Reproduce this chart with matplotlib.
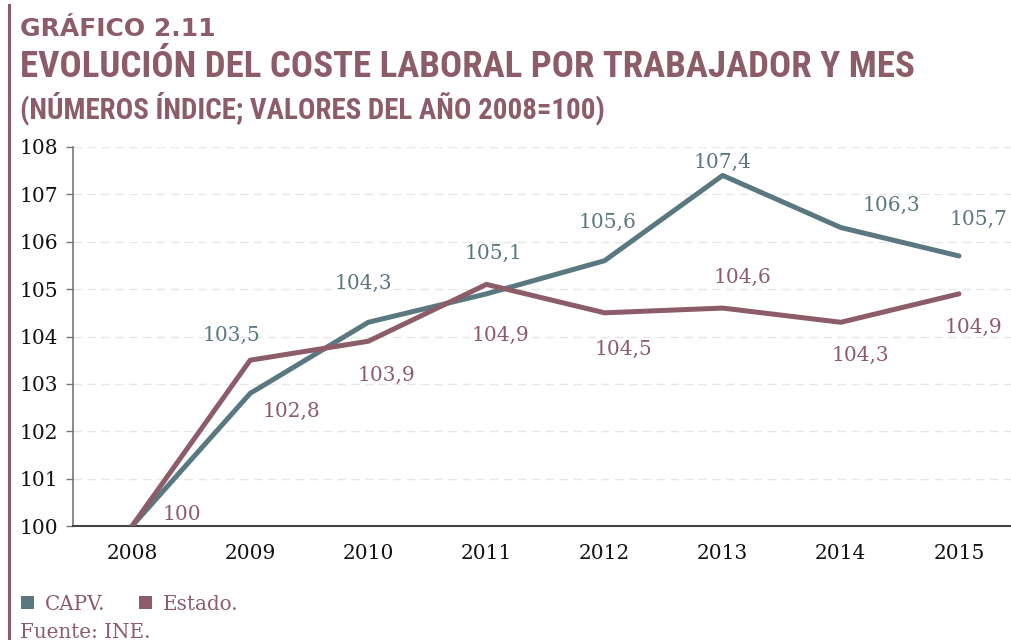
import matplotlib
matplotlib.use("Agg")
import matplotlib.pyplot as plt
from matplotlib import font_manager as fm
from matplotlib.patches import Rectangle
from matplotlib.lines import Line2D

# datos (números índice, 2008=100)
years = ["2008", "2009", "2010", "2011", "2012", "2013", "2014", "2015"]
capv = [100, 102.8, 104.3, 104.9, 105.6, 107.4, 106.3, 105.7]
estado = [100, 103.5, 103.9, 105.1, 104.5, 104.6, 104.3, 104.9]
yticks = [100, 101, 102, 103, 104, 105, 106, 107, 108]

# desplazamiento de las etiquetas (pixeles) respecto al punto
top_off = [None, (-19, 25), (-5, 39), (7, 31), (3, 38), (0, 13), (51, 22), (20, 37)]
bot_off = [(50, 12), (41, -18), (18, -34), (14, -42), (19, -37), (20, 31), (20, -33), (14, -34)]

TEAL = "#5a7880"
PURPLE = "#8d5c69"
W, H = 1011, 640

# buscar una fuente estrecha para el titulo (si existe)
narrow = None
for f in fm.fontManager.ttflist:
    name = f.name.lower()
    if ("narrow" in name or "condensed" in name or "condensed" in str(f.stretch)) \
            and f.style == "normal":
        if narrow is None or (str(f.weight) in ("bold", "700", "800", "900") or
                              (isinstance(f.weight, int) and f.weight >= 700)):
            narrow = f
if narrow is not None:
    title_prop = fm.FontProperties(fname=narrow.fname)
else:
    title_prop = fm.FontProperties(family="DejaVu Sans", weight="bold")

fig = plt.figure(figsize=(W / 100, H / 100), dpi=100)
ax = fig.add_axes([73 / W, (H - 526) / H, (1018 - 73) / W, (526 - 147) / H])

x = list(range(len(years)))
ax.plot(x, capv, color=TEAL, lw=3.6, solid_capstyle="round", zorder=3)
ax.plot(x, estado, color=PURPLE, lw=3.6, solid_capstyle="round", zorder=3)

serif = "DejaVu Serif"
fs = 14.5

def fmt(v):
    return f"{v:g}".replace(".", ",")

for i in x:
    hi, lo = max(capv[i], estado[i]), min(capv[i], estado[i])
    if top_off[i] is not None:
        ax.annotate(fmt(hi), (i, hi), xytext=top_off[i], textcoords="offset pixels",
                    ha="center", va="center", color=TEAL, fontsize=fs, family=serif)
    ax.annotate(fmt(lo), (i, lo), xytext=bot_off[i], textcoords="offset pixels",
                ha="center", va="center", color=PURPLE, fontsize=fs, family=serif)

ax.set_xlim(-0.5, 7.5)
ax.set_ylim(100, 108)
ax.set_xticks(x)
ax.set_xticklabels(years, family=serif, fontsize=fs, color="#111111")
ax.set_yticks(yticks)
ax.set_yticklabels([str(v) for v in yticks], family=serif, fontsize=fs, color="#111111")
ax.tick_params(axis="x", length=0, pad=13)
ax.tick_params(axis="y", length=5, width=1, color="#777777", pad=6)
ax.grid(axis="y", color="#e6e6e6", lw=1, ls=(0, (6, 4)))
ax.set_axisbelow(True)
for s in ["top", "right"]:
    ax.spines[s].set_visible(False)
ax.spines["left"].set_color("#777777")
ax.spines["left"].set_linewidth(1.2)
ax.spines["bottom"].set_color("#444444")
ax.spines["bottom"].set_linewidth(1.5)

# barra vertical izquierda
fig.add_artist(Line2D([8.5 / W, 8.5 / W], [0, 1 - 5 / H], transform=fig.transFigure,
                      color=PURPLE, lw=2.2))

# titulos
t1 = fig.text(20 / W, 1 - 36 / H, "GRÁFICO 2.11", color=PURPLE, fontsize=16,
              family="DejaVu Sans", weight="heavy", va="baseline")
t2 = fig.text(20 / W, 1 - 77 / H, "EVOLUCIÓN DEL COSTE LABORAL POR TRABAJADOR Y MES",
              color=PURPLE, fontproperties=title_prop, va="baseline")
t3 = fig.text(20 / W, 1 - 118 / H, "(NÚMEROS ÍNDICE; VALORES DEL AÑO 2008=100)",
              color=PURPLE, fontproperties=title_prop, va="baseline")
t2.set_fontsize(26)
t3.set_fontsize(26)

fig.canvas.draw()
r = fig.canvas.get_renderer()
for t, target in [(t1, 219), (t2, 895), (t3, 588)]:
    w = t.get_window_extent(r).width
    size = t.get_fontsize() * target / w
    if t is t1:
        size = min(size, 18)
    else:
        size = min(size, 34)
    t.set_fontsize(size)

# leyenda
fig.add_artist(Rectangle((21 / W, 1 - 609 / H), 13 / W, 13 / H, transform=fig.transFigure,
                         color=TEAL, lw=0))
fig.text(45 / W, 1 - 610 / H, "CAPV.", color=PURPLE, fontsize=14.3, family=serif, va="baseline")
fig.add_artist(Rectangle((139 / W, 1 - 609 / H), 13 / W, 13 / H, transform=fig.transFigure,
                         color=PURPLE, lw=0))
fig.text(163 / W, 1 - 610 / H, "Estado.", color=PURPLE, fontsize=14.3, family=serif, va="baseline")
fig.text(20 / W, 1 - 638 / H, "Fuente: INE.", color=PURPLE, fontsize=14.3, family=serif,
         va="baseline")

fig.savefig("out.png", dpi=100)
